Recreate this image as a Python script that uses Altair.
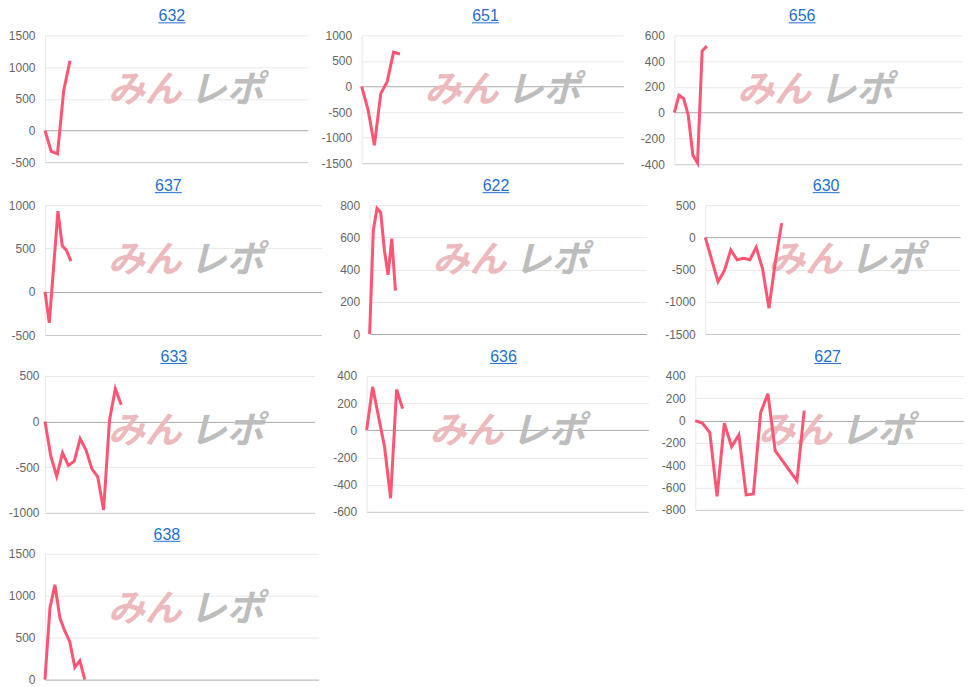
import altair as alt
import pandas as pd

# ---- data ----
titles = ["632", "651", "656", "637", "622", "630", "633", "636", "627", "638"]

days_632 = [0, 1, 2, 3, 4]
vals_632 = [0, -330, -370, 630, 1100]
days_651 = [0, 1, 2, 3, 4, 5, 6]
vals_651 = [0, -450, -1150, -140, 95, 670, 635]
days_656 = [0, 1, 2, 3, 4, 5, 6, 7]
vals_656 = [0, 135, 110, -18, -330, -390, 478, 516]
days_637 = [0, 1, 3, 4, 5, 6]
vals_637 = [0, -360, 930, 530, 475, 353]
days_622 = [0, 1, 2, 3, 4, 5, 6, 7]
vals_622 = [0, 643, 780, 755, 520, 367, 592, 270]
days_630 = [0, 2, 3, 4, 5, 6, 7, 8, 9, 10, 11, 12]
vals_630 = [0, -687, -517, -196, -347, -325, -347, -155, -490, -1100, -380, 221]
days_633 = [0, 1, 2, 3, 4, 5, 6, 7, 8, 9, 10, 11, 12, 13]
vals_633 = [0, -379, -600, -342, -482, -434, -188, -313, -518, -607, -970, 10, 360, 184]
days_636 = [0, 1, 3, 4, 5, 6]
vals_636 = [0, 320, -125, -500, 300, 160]
days_627 = [0, 1, 2, 3, 4, 5, 6, 7, 8, 9, 10, 11, 14, 15]
vals_627 = [0, -24, -107, -680, -24, -233, -128, -666, -657, 72, 241, -269, -540, 90]
days_638 = [0, 1, 2, 3, 4, 5, 6, 7, 8]
vals_638 = [0, 855, 1130, 736, 577, 450, 147, 227, 0]

all_days = [days_632, days_651, days_656, days_637, days_622,
            days_630, days_633, days_636, days_627, days_638]
all_vals = [vals_632, vals_651, vals_656, vals_637, vals_622,
            vals_630, vals_633, vals_636, vals_627, vals_638]

# x span (days shown on each panel's axis)
spans = [42, 41, 62, 64, 75, 40, 46, 47, 37, 55]
# y axis ranges and tick steps
y_lo = [-500, -1500, -400, -500, 0, -1500, -1000, -600, -800, 0]
y_hi = [1500, 1000, 600, 1000, 800, 500, 500, 400, 400, 1500]
y_step = [500, 500, 200, 500, 200, 500, 500, 200, 200, 500]

# ---- layout / style ----
widths = [263, 262, 288, 277, 277, 255, 270, 282, 269, 274]
heights = [127, 128, 129, 130, 129, 129, 137, 136, 134, 126]
extents = [37, 44, 41, 37, 38, 49, 37, 42, 37, 37]
label_pad = [10, 10, 10, 10, 10, 10, 6, 10, 10, 10]
title_dx = [-4.5, -7, -16, -15, -12, -6.5, -6, -4, -2, -15]

LINE = "#ff5575"
LINK = "#1f6fd0"
GRID = "#e8e8e8"


def panel(i):
    df = pd.DataFrame({"day": all_days[i], "val": all_vals[i]})
    lo, hi, st = y_lo[i], y_hi[i], y_step[i]
    w, h = widths[i], heights[i]
    ticks = list(range(lo, hi + 1, st))
    grid_color = {
        "condition": [
            {"test": "datum.value === 0", "value": "#ababab"},
            {"test": f"datum.value === {lo}", "value": "#c8c8c8"},
        ],
        "value": GRID,
    }
    x = alt.X("day:Q", scale=alt.Scale(domain=[0, spans[i]], nice=False, zero=False), axis=None)
    y = alt.Y(
        "val:Q",
        scale=alt.Scale(domain=[lo, hi], nice=False, zero=False),
        axis=alt.Axis(
            values=ticks, title=None, ticks=False, grid=True, gridColor=grid_color,
            domain=True, domainColor=GRID, labelColor="#666666",
            labelFont="Liberation Sans", labelFontSize=12, labelPadding=label_pad[i],
            labelExpr="datum.value + ''", minExtent=extents[i], maxExtent=extents[i],
        ),
    )
    one = pd.DataFrame({"k": [0]})
    logo1 = alt.Chart(one).mark_text(
        text="みん", font="Noto Sans CJK JP", fontSize=37, fontWeight="bold",
        fontStyle="italic", color="#ecb9bc", align="left", baseline="middle",
    ).encode(x=alt.value(63), y=alt.value(56))
    logo2 = alt.Chart(one).mark_text(
        text="レポ", font="Noto Sans CJK JP", fontSize=37, fontWeight="bold",
        fontStyle="italic", color="#bdbdbd", align="left", baseline="middle",
    ).encode(x=alt.value(145), y=alt.value(56))
    cx = w / 2 + title_dx[i]
    ttl = alt.Chart(one).mark_text(
        text=titles[i], font="Liberation Sans", fontSize=16, color=LINK,
        align="center", baseline="alphabetic",
    ).encode(x=alt.value(cx), y=alt.value(-14))
    uline = alt.Chart(one).mark_rule(color=LINK, strokeWidth=1).encode(
        x=alt.value(cx - 13.5), x2=alt.value(cx + 13.5), y=alt.value(-12.5)
    )
    line = alt.Chart(df).mark_line(
        color=LINE, strokeWidth=3, strokeJoin="miter"
    ).encode(x=x, y=y)
    return alt.layer(logo1, logo2, ttl, uline, line).properties(width=w, height=h)


rows = [
    alt.hconcat(panel(0), panel(1), panel(2), spacing=10),
    alt.hconcat(panel(3), panel(4), panel(5), spacing=10),
    alt.hconcat(panel(6), panel(7), panel(8), spacing=10),
    alt.hconcat(panel(9), spacing=10),
]

chart = (
    alt.vconcat(*rows, spacing=8)
    .properties(padding=0)
    .configure_view(stroke=None)
)

chart.save("out.html", embed_options={"renderer": "svg", "actions": False})
